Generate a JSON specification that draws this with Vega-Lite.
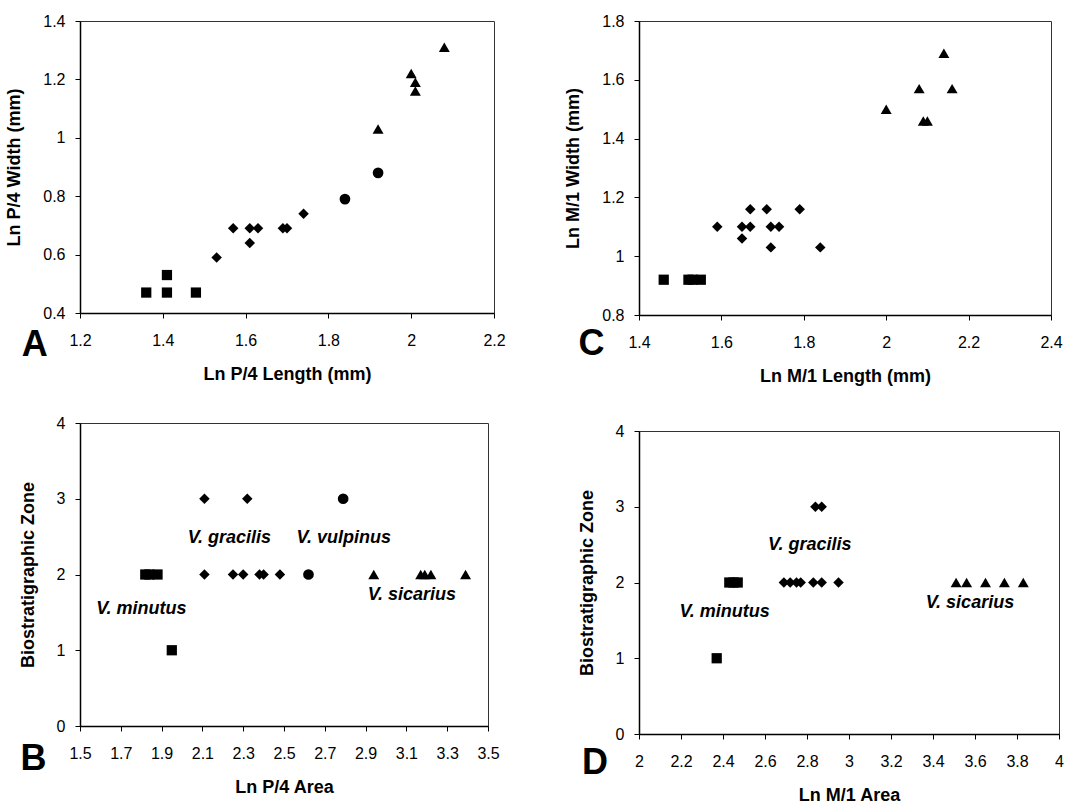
{
  "$schema": "https://vega.github.io/schema/vega-lite/v6.json",
  "background": "white",
  "autosize": {"type": "pad"},
  "padding": {"left": 5, "top": 12, "right": 5, "bottom": 5},
  "spacing": 58,
  "datasets": {
    "a": [
      {"species": "minutus", "x": 1.36, "y": 0.47},
      {"species": "minutus", "x": 1.41, "y": 0.47},
      {"species": "minutus", "x": 1.41, "y": 0.53},
      {"species": "minutus", "x": 1.48, "y": 0.47},
      {"species": "gracilis", "x": 1.53, "y": 0.59},
      {"species": "gracilis", "x": 1.57, "y": 0.69},
      {"species": "gracilis", "x": 1.61, "y": 0.69},
      {"species": "gracilis", "x": 1.61, "y": 0.64},
      {"species": "gracilis", "x": 1.63, "y": 0.69},
      {"species": "gracilis", "x": 1.69, "y": 0.69},
      {"species": "gracilis", "x": 1.70, "y": 0.69},
      {"species": "gracilis", "x": 1.74, "y": 0.74},
      {"species": "vulpinus", "x": 1.84, "y": 0.79},
      {"species": "vulpinus", "x": 1.92, "y": 0.88},
      {"species": "sicarius", "x": 1.92, "y": 1.03},
      {"species": "sicarius", "x": 2.00, "y": 1.22},
      {"species": "sicarius", "x": 2.01, "y": 1.19},
      {"species": "sicarius", "x": 2.01, "y": 1.16},
      {"species": "sicarius", "x": 2.08, "y": 1.31}
    ],
    "c": [
      {"species": "minutus", "x": 1.46, "y": 0.92},
      {"species": "minutus", "x": 1.52, "y": 0.92},
      {"species": "minutus", "x": 1.53, "y": 0.92},
      {"species": "minutus", "x": 1.55, "y": 0.92},
      {"species": "gracilis", "x": 1.59, "y": 1.10},
      {"species": "gracilis", "x": 1.65, "y": 1.10},
      {"species": "gracilis", "x": 1.65, "y": 1.06},
      {"species": "gracilis", "x": 1.67, "y": 1.16},
      {"species": "gracilis", "x": 1.67, "y": 1.10},
      {"species": "gracilis", "x": 1.71, "y": 1.16},
      {"species": "gracilis", "x": 1.72, "y": 1.10},
      {"species": "gracilis", "x": 1.72, "y": 1.03},
      {"species": "gracilis", "x": 1.74, "y": 1.10},
      {"species": "gracilis", "x": 1.79, "y": 1.16},
      {"species": "gracilis", "x": 1.84, "y": 1.03},
      {"species": "sicarius", "x": 2.00, "y": 1.50},
      {"species": "sicarius", "x": 2.08, "y": 1.57},
      {"species": "sicarius", "x": 2.14, "y": 1.69},
      {"species": "sicarius", "x": 2.16, "y": 1.57},
      {"species": "sicarius", "x": 2.09, "y": 1.46},
      {"species": "sicarius", "x": 2.10, "y": 1.46}
    ],
    "b": [
      {"species": "minutus", "x": 1.82, "y": 2},
      {"species": "minutus", "x": 1.84, "y": 2},
      {"species": "minutus", "x": 1.88, "y": 2},
      {"species": "minutus", "x": 1.95, "y": 1},
      {"species": "gracilis", "x": 2.11, "y": 3},
      {"species": "gracilis", "x": 2.32, "y": 3},
      {"species": "gracilis", "x": 2.11, "y": 2},
      {"species": "gracilis", "x": 2.25, "y": 2},
      {"species": "gracilis", "x": 2.30, "y": 2},
      {"species": "gracilis", "x": 2.38, "y": 2},
      {"species": "gracilis", "x": 2.40, "y": 2},
      {"species": "gracilis", "x": 2.48, "y": 2},
      {"species": "vulpinus", "x": 2.79, "y": 3},
      {"species": "vulpinus", "x": 2.62, "y": 2},
      {"species": "sicarius", "x": 2.94, "y": 2},
      {"species": "sicarius", "x": 3.17, "y": 2},
      {"species": "sicarius", "x": 3.19, "y": 2},
      {"species": "sicarius", "x": 3.22, "y": 2},
      {"species": "sicarius", "x": 3.39, "y": 2}
    ],
    "d": [
      {"species": "minutus", "x": 2.43, "y": 2},
      {"species": "minutus", "x": 2.45, "y": 2},
      {"species": "minutus", "x": 2.47, "y": 2},
      {"species": "minutus", "x": 2.37, "y": 1},
      {"species": "gracilis", "x": 2.84, "y": 3},
      {"species": "gracilis", "x": 2.87, "y": 3},
      {"species": "gracilis", "x": 2.69, "y": 2},
      {"species": "gracilis", "x": 2.72, "y": 2},
      {"species": "gracilis", "x": 2.75, "y": 2},
      {"species": "gracilis", "x": 2.77, "y": 2},
      {"species": "gracilis", "x": 2.83, "y": 2},
      {"species": "gracilis", "x": 2.87, "y": 2},
      {"species": "gracilis", "x": 2.95, "y": 2},
      {"species": "sicarius", "x": 3.51, "y": 2},
      {"species": "sicarius", "x": 3.56, "y": 2},
      {"species": "sicarius", "x": 3.65, "y": 2},
      {"species": "sicarius", "x": 3.74, "y": 2},
      {"species": "sicarius", "x": 3.83, "y": 2}
    ],
    "blabels": [
      {"label": "V. gracilis", "x": 2.232, "y": 2.476},
      {"label": "V. vulpinus", "x": 2.793, "y": 2.476},
      {"label": "V. minutus", "x": 1.801, "y": 1.55},
      {"label": "V. sicarius", "x": 3.127, "y": 1.727}
    ],
    "dlabels": [
      {"label": "V. gracilis", "x": 2.813, "y": 2.489},
      {"label": "V. minutus", "x": 2.408, "y": 1.617},
      {"label": "V. sicarius", "x": 3.576, "y": 1.731}
    ]
  },
  "hconcat": [
    {
      "spacing": 30,
      "vconcat": [
        {
          "width": 414,
          "height": 292,
          "layer": [
            {
              "data": {"name": "a"},
              "mark": {"type": "point", "filled": true, "color": "black", "opacity": 1},
              "encoding": {
                "x": {"field": "x", "type": "quantitative", "scale": {"domain": [1.2, 2.2], "nice": false, "zero": false}, "axis": {"title": "Ln P/4 Length (mm)", "values": [1.2, 1.4, 1.6, 1.8, 2, 2.2], "format": "~g"}},
                "y": {"field": "y", "type": "quantitative", "scale": {"domain": [0.4, 1.4], "nice": false, "zero": false}, "axis": {"title": "Ln P/4 Width (mm)", "values": [0.4, 0.6, 0.8, 1, 1.2, 1.4], "format": "~g"}},
                "shape": {"field": "species", "type": "nominal", "scale": {"domain": ["minutus", "gracilis", "vulpinus", "sicarius"], "range": ["square", "diamond", "circle", "triangle-up"]}, "legend": null},
                "size": {"field": "species", "type": "ordinal", "scale": {"domain": ["minutus", "gracilis", "vulpinus", "sicarius"], "range": [105, 120, 125, 150]}, "legend": null}
              }
            },
            {
              "data": {"values": [{}]},
              "mark": {"type": "text", "text": "A", "fontSize": 36, "fontWeight": "bold", "align": "center", "baseline": "middle", "color": "black"},
              "encoding": {
                "x": {"datum": 1.0905, "type": "quantitative", "scale": {"domain": [1.2, 2.2], "nice": false, "zero": false}},
                "y": {"datum": 0.29, "type": "quantitative", "scale": {"domain": [0.4, 1.4], "nice": false, "zero": false}}
              }
            }
          ]
        },
        {
          "width": 408,
          "height": 303,
          "layer": [
            {
              "data": {"name": "b"},
              "mark": {"type": "point", "filled": true, "color": "black", "opacity": 1},
              "encoding": {
                "x": {"field": "x", "type": "quantitative", "scale": {"domain": [1.5, 3.5], "nice": false, "zero": false}, "axis": {"title": "Ln P/4 Area", "values": [1.5, 1.7, 1.9, 2.1, 2.3, 2.5, 2.7, 2.9, 3.1, 3.3, 3.5], "format": "~g"}},
                "y": {"field": "y", "type": "quantitative", "scale": {"domain": [0, 4], "nice": false, "zero": false}, "axis": {"title": "Biostratigraphic Zone", "values": [0, 1, 2, 3, 4], "format": "~g"}},
                "shape": {"field": "species", "type": "nominal", "scale": {"domain": ["minutus", "gracilis", "vulpinus", "sicarius"], "range": ["square", "diamond", "circle", "triangle-up"]}, "legend": null},
                "size": {"field": "species", "type": "ordinal", "scale": {"domain": ["minutus", "gracilis", "vulpinus", "sicarius"], "range": [105, 120, 125, 150]}, "legend": null}
              }
            },
            {
              "data": {"name": "blabels"},
              "mark": {"type": "text", "fontSize": 18, "fontWeight": "bold", "fontStyle": "italic", "align": "center", "baseline": "middle", "color": "black"},
              "encoding": {
                "x": {"field": "x", "type": "quantitative", "scale": {"domain": [1.5, 3.5], "nice": false, "zero": false}},
                "y": {"field": "y", "type": "quantitative", "scale": {"domain": [0, 4], "nice": false, "zero": false}},
                "text": {"field": "label"}
              }
            },
            {
              "data": {"values": [{}]},
              "mark": {"type": "text", "text": "B", "fontSize": 36, "fontWeight": "bold", "align": "center", "baseline": "middle", "color": "black"},
              "encoding": {
                "x": {"datum": 1.272, "type": "quantitative", "scale": {"domain": [1.5, 3.5], "nice": false, "zero": false}},
                "y": {"datum": -0.436, "type": "quantitative", "scale": {"domain": [0, 4], "nice": false, "zero": false}}
              }
            }
          ]
        }
      ]
    },
    {
      "spacing": 36,
      "vconcat": [
        {
          "width": 412,
          "height": 294,
          "layer": [
            {
              "data": {"name": "c"},
              "mark": {"type": "point", "filled": true, "color": "black", "opacity": 1},
              "encoding": {
                "x": {"field": "x", "type": "quantitative", "scale": {"domain": [1.4, 2.4], "nice": false, "zero": false}, "axis": {"title": "Ln M/1 Length (mm)", "values": [1.4, 1.6, 1.8, 2, 2.2, 2.4], "format": "~g"}},
                "y": {"field": "y", "type": "quantitative", "scale": {"domain": [0.8, 1.8], "nice": false, "zero": false}, "axis": {"title": "Ln M/1 Width (mm)", "values": [0.8, 1, 1.2, 1.4, 1.6, 1.8], "format": "~g"}},
                "shape": {"field": "species", "type": "nominal", "scale": {"domain": ["minutus", "gracilis", "vulpinus", "sicarius"], "range": ["square", "diamond", "circle", "triangle-up"]}, "legend": null},
                "size": {"field": "species", "type": "ordinal", "scale": {"domain": ["minutus", "gracilis", "vulpinus", "sicarius"], "range": [105, 120, 125, 150]}, "legend": null}
              }
            },
            {
              "data": {"values": [{}]},
              "mark": {"type": "text", "text": "C", "fontSize": 36, "fontWeight": "bold", "align": "center", "baseline": "middle", "color": "black"},
              "encoding": {
                "x": {"datum": 1.285, "type": "quantitative", "scale": {"domain": [1.4, 2.4], "nice": false, "zero": false}},
                "y": {"datum": 0.702, "type": "quantitative", "scale": {"domain": [0.8, 1.8], "nice": false, "zero": false}}
              }
            }
          ]
        },
        {
          "width": 420,
          "height": 303,
          "layer": [
            {
              "data": {"name": "d"},
              "mark": {"type": "point", "filled": true, "color": "black", "opacity": 1},
              "encoding": {
                "x": {"field": "x", "type": "quantitative", "scale": {"domain": [2, 4], "nice": false, "zero": false}, "axis": {"title": "Ln M/1 Area", "values": [2, 2.2, 2.4, 2.6, 2.8, 3, 3.2, 3.4, 3.6, 3.8, 4], "format": "~g"}},
                "y": {"field": "y", "type": "quantitative", "scale": {"domain": [0, 4], "nice": false, "zero": false}, "axis": {"title": "Biostratigraphic Zone", "values": [0, 1, 2, 3, 4], "format": "~g"}},
                "shape": {"field": "species", "type": "nominal", "scale": {"domain": ["minutus", "gracilis", "vulpinus", "sicarius"], "range": ["square", "diamond", "circle", "triangle-up"]}, "legend": null},
                "size": {"field": "species", "type": "ordinal", "scale": {"domain": ["minutus", "gracilis", "vulpinus", "sicarius"], "range": [105, 120, 125, 150]}, "legend": null}
              }
            },
            {
              "data": {"name": "dlabels"},
              "mark": {"type": "text", "fontSize": 18, "fontWeight": "bold", "fontStyle": "italic", "align": "center", "baseline": "middle", "color": "black"},
              "encoding": {
                "x": {"field": "x", "type": "quantitative", "scale": {"domain": [2, 4], "nice": false, "zero": false}},
                "y": {"field": "y", "type": "quantitative", "scale": {"domain": [0, 4], "nice": false, "zero": false}},
                "text": {"field": "label"}
              }
            },
            {
              "data": {"values": [{}]},
              "mark": {"type": "text", "text": "D", "fontSize": 36, "fontWeight": "bold", "align": "center", "baseline": "middle", "color": "black"},
              "encoding": {
                "x": {"datum": 1.79, "type": "quantitative", "scale": {"domain": [2, 4], "nice": false, "zero": false}},
                "y": {"datum": -0.383, "type": "quantitative", "scale": {"domain": [0, 4], "nice": false, "zero": false}}
              }
            }
          ]
        }
      ]
    }
  ],
  "config": {
    "font": "Liberation Sans",
    "view": {"stroke": "#333333", "strokeWidth": 1},
    "axis": {
      "grid": false,
      "labelFlush": false,
      "domainColor": "black",
      "domainWidth": 1.5,
      "tickColor": "black",
      "tickSize": 5,
      "labelFont": "Liberation Sans",
      "labelFontSize": 16,
      "labelColor": "black",
      "titleFont": "Liberation Sans",
      "titleFontSize": 18,
      "titleFontWeight": "bold",
      "titleColor": "black"
    },
    "axisX": {"labelPadding": 14, "titlePadding": 17},
    "axisY": {"labelPadding": 10, "titlePadding": 19},
    "text": {"font": "Liberation Sans"}
  }
}
